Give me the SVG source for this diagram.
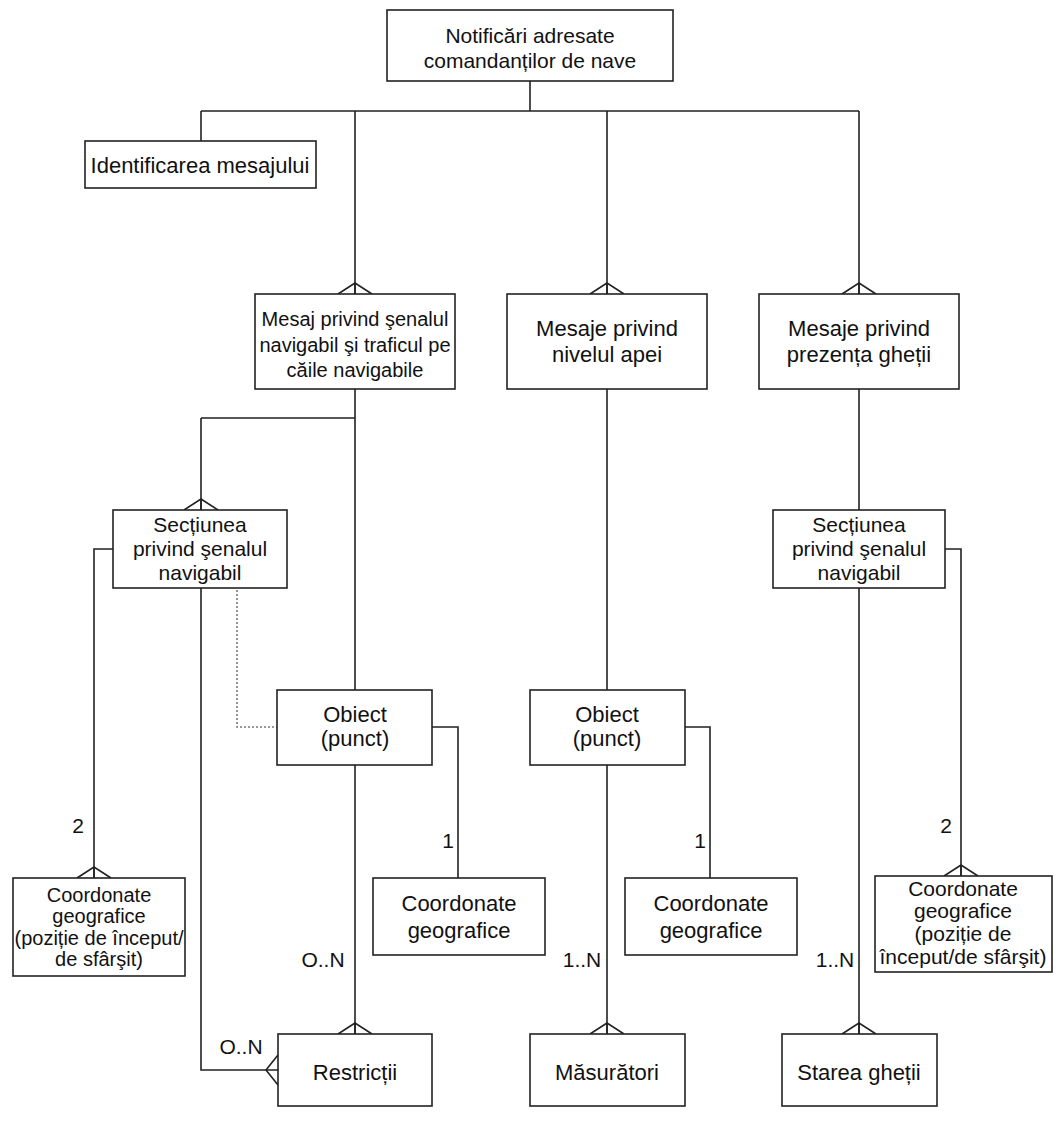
<svg xmlns="http://www.w3.org/2000/svg" width="1063" height="1126" viewBox="0 0 1063 1126">
<style>
.box{fill:#fff;stroke:#222;stroke-width:1.6}
.ln{fill:none;stroke:#222;stroke-width:1.6}
.dot{fill:none;stroke:#777;stroke-width:1.6;stroke-dasharray:2 2}
text{font-family:"Liberation Sans",Arial,sans-serif;font-size:22px;fill:#111;text-anchor:middle}
.s20{font-size:20px}
.s21{font-size:21px}
</style>
<defs>
<path id="crowTop" d="M-17,0 L0,-11 L17,0 M0,-11 L0,0" class="ln"/>
</defs>
<rect width="1063" height="1126" fill="#fff"/>
<g id="connectors">
<path class="ln" d="M530,81 V111 M201,111 H859 M201,111 V141 M355,111 V294 M607,111 V294 M859,111 V294"/>
<path class="ln" d="M355,389 V690 M201,418 H355 M201,418 V510"/>
<path class="ln" d="M113,549 H94 V878"/>
<path class="ln" d="M201,588 V1070 H278"/>
<path class="dot" d="M237,590 V727 H277"/>
<path class="ln" d="M432,727 H458 V878"/>
<path class="ln" d="M355,765 V1034"/>
<path class="ln" d="M607,389 V690 M685,727 H710 V878 M607,765 V1034"/>
<path class="ln" d="M859,389 V510 M945,549 H961 V876 M859,588 V1034"/>
<use href="#crowTop" x="355" y="294"/>
<use href="#crowTop" x="607" y="294"/>
<use href="#crowTop" x="859" y="294"/>
<use href="#crowTop" x="201" y="510"/>
<use href="#crowTop" x="94" y="878"/>
<use href="#crowTop" x="961" y="876"/>
<use href="#crowTop" x="355" y="1034"/>
<use href="#crowTop" x="607" y="1034"/>
<use href="#crowTop" x="859" y="1034"/>
<path class="ln" d="M278,1055 L266,1070 L278,1085"/>
<text class="s21" x="78" y="833">2</text>
<text class="s21" x="946" y="833">2</text>
<text class="s21" x="448" y="848">1</text>
<text class="s21" x="700" y="848">1</text>
<text class="s21" x="323" y="967">O..N</text>
<text class="s21" x="582" y="967">1..N</text>
<text class="s21" x="835" y="967">1..N</text>
<text class="s21" x="241" y="1054">O..N</text>
</g>
<g id="n-notificari">
<rect class="box" x="387" y="10" width="286" height="71"/>
<text class="s21" x="530" y="43">Notificări adresate</text>
<text class="s21" x="530" y="68">comandanților de nave</text>
</g>
<g id="n-identificarea">
<rect class="box" x="85" y="141" width="231" height="47"/>
<text x="200" y="173">Identificarea mesajului</text>
</g>
<g id="n-mesaj-senal">
<rect class="box" x="255" y="294" width="200" height="95"/>
<text class="s20" x="355" y="326">Mesaj privind şenalul</text>
<text class="s20" x="355" y="352">navigabil şi traficul pe</text>
<text class="s20" x="355" y="377">căile navigabile</text>
</g>
<g id="n-mesaje-nivel">
<rect class="box" x="507" y="294" width="200" height="95"/>
<text x="607" y="336">Mesaje privind</text>
<text x="607" y="362">nivelul apei</text>
</g>
<g id="n-mesaje-gheata">
<rect class="box" x="759" y="294" width="200" height="95"/>
<text x="859" y="336">Mesaje privind</text>
<text x="859" y="362">prezența gheții</text>
</g>
<g id="n-sectiunea-left">
<rect class="box" x="113" y="510" width="174" height="78"/>
<text class="s21" x="200" y="532">Secțiunea</text>
<text class="s21" x="200" y="556">privind şenalul</text>
<text class="s21" x="200" y="580">navigabil</text>
</g>
<g id="n-sectiunea-right">
<rect class="box" x="773" y="510" width="172" height="78"/>
<text class="s21" x="859" y="532">Secțiunea</text>
<text class="s21" x="859" y="556">privind şenalul</text>
<text class="s21" x="859" y="580">navigabil</text>
</g>
<g id="n-obiect-1">
<rect class="box" x="277" y="690" width="155" height="75"/>
<text x="355" y="722">Obiect</text>
<text x="355" y="746">(punct)</text>
</g>
<g id="n-obiect-2">
<rect class="box" x="530" y="690" width="155" height="75"/>
<text x="607" y="722">Obiect</text>
<text x="607" y="746">(punct)</text>
</g>
<g id="n-coord-left">
<rect class="box" x="13" y="878" width="172" height="98"/>
<text class="s20" x="99" y="902">Coordonate</text>
<text class="s20" x="99" y="923">geografice</text>
<text class="s20" x="99" y="945">(poziție de început/</text>
<text class="s20" x="99" y="966">de sfârşit)</text>
</g>
<g id="n-coord-mid1">
<rect class="box" x="373" y="878" width="172" height="77"/>
<text x="459" y="911">Coordonate</text>
<text x="459" y="938">geografice</text>
</g>
<g id="n-coord-mid2">
<rect class="box" x="625" y="878" width="172" height="77"/>
<text x="711" y="911">Coordonate</text>
<text x="711" y="938">geografice</text>
</g>
<g id="n-coord-right">
<rect class="box" x="875" y="876" width="177" height="96"/>
<text class="s21" x="963" y="896">Coordonate</text>
<text class="s21" x="963" y="918">geografice</text>
<text class="s21" x="963" y="941">(poziție de</text>
<text class="s21" x="963" y="964">început/de sfârşit)</text>
</g>
<g id="n-restrictii">
<rect class="box" x="278" y="1034" width="154" height="72"/>
<text x="355" y="1080">Restricții</text>
</g>
<g id="n-masuratori">
<rect class="box" x="530" y="1034" width="155" height="72"/>
<text x="607" y="1080">Măsurători</text>
</g>
<g id="n-starea">
<rect class="box" x="782" y="1034" width="155" height="72"/>
<text x="859" y="1080">Starea gheții</text>
</g>
</svg>
